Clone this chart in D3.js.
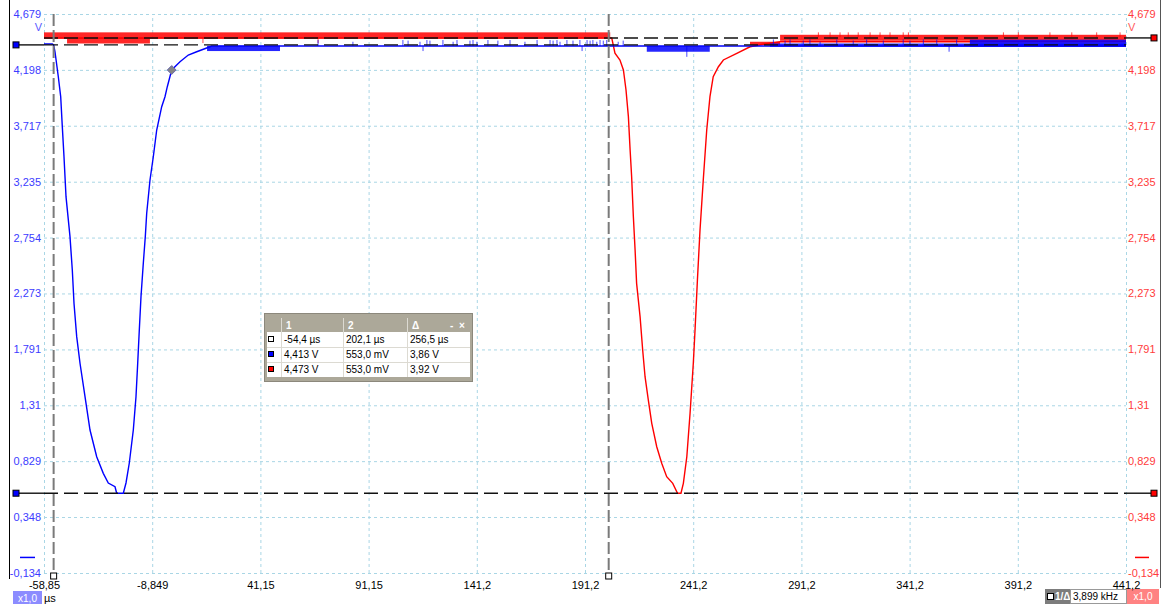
<!DOCTYPE html>
<html>
<head>
<meta charset="utf-8">
<script src="https://cdn.jsdelivr.net/npm/d3@7"></script>
<style>
body { margin: 0; background: #fff; }
svg { display: block; font-family: "Liberation Sans", Arial, sans-serif; }
</style>
</head>
<body>
<script>
// axis ticks (µs and V), labels as shown by the scope
var xTicks = [-58.85, -8.85, 41.15, 91.15, 141.15, 191.15, 241.15, 291.15, 341.15, 391.15, 441.15];
var xTickLabels = ["-58,85", "-8,849", "41,15", "91,15", "141,2", "191,2", "241,2", "291,2", "341,2", "391,2", "441,2"];
var yTicks = [4.679, 4.198, 3.717, 3.235, 2.754, 2.273, 1.791, 1.31, 0.829, 0.348, -0.134];
var yTickLabels = ["4,679", "4,198", "3,717", "3,235", "2,754", "2,273", "1,791", "1,31", "0,829", "0,348", "-0,134"];

// channel A (blue) and channel B (red), [µs, V]
var blueTrace = [
  [-58.85, 4.421], [-55.0, 4.421], [-54.4, 4.413], [-53.77, 4.354], [-52.24, 4.139],
  [-51.13, 3.967], [-50.39, 3.709], [-49.61, 3.450], [-48.68, 3.106], [-46.84, 2.762],
  [-45.77, 2.475], [-44.99, 2.188], [-43.74, 1.901], [-42.21, 1.672], [-39.90, 1.384],
  [-37.59, 1.097], [-34.50, 0.867], [-31.45, 0.724], [-29.14, 0.641], [-26.04, 0.609],
  [-25.26, 0.553], [-22.20, 0.553], [-20.96, 0.641], [-19.43, 0.813], [-17.58, 1.097],
  [-16.34, 1.384], [-15.55, 1.672], [-14.81, 1.958], [-14.03, 2.245], [-12.96, 2.533],
  [-12.04, 2.762], [-11.39, 2.963], [-9.87, 3.250], [-8.34, 3.450], [-6.77, 3.680],
  [-4.46, 3.881], [-2.94, 3.967], [-1.87, 4.053], [0.16, 4.197], [2.47, 4.240],
  [4.00, 4.268], [7.83, 4.326], [11.71, 4.354], [17.86, 4.397], [18.5, 4.403],
  [441.15, 4.403]
];
var redTrace = [
  [-58.85, 4.473], [203.5, 4.473], [204.2, 4.412], [205.0, 4.341], [207.3, 4.283],
  [208.9, 4.197], [210.1, 4.025], [211.2, 3.795], [212.0, 3.508], [212.7, 3.278],
  [213.5, 2.934], [214.3, 2.647], [215.0, 2.360], [216.6, 2.073], [217.8, 1.786],
  [218.9, 1.556], [220.4, 1.356], [222.0, 1.155], [224.3, 0.953], [226.6, 0.811],
  [228.9, 0.695], [231.7, 0.638], [233.9, 0.553], [235.5, 0.553], [236.6, 0.638],
  [238.2, 0.867], [239.7, 1.241], [241.2, 1.672], [242.0, 1.958], [243.1, 2.389],
  [244.3, 2.819], [245.8, 3.250], [247.4, 3.680], [248.9, 3.967], [250.4, 4.139],
  [252.8, 4.225], [255.1, 4.283], [261.3, 4.341], [267.4, 4.397], [273.6, 4.418],
  [281.3, 4.440], [441.15, 4.440]
];

// dense noise blocks [t0, t1, vLow, vHigh]
var blueBands = [
  [16.5, 50.2, 4.360, 4.406],
  [219.7, 248.8, 4.354, 4.403],
  [276.6, 441.15, 4.397, 4.425],
  [369.0, 441.15, 4.397, 4.458]
];
var redBands = [
  [-58.85, 202.8, 4.467, 4.521],
  [-48.2, -9.9, 4.425, 4.473],
  [267.4, 281.3, 4.412, 4.440],
  [281.3, 441.15, 4.448, 4.500]
];

// single noise spikes [t, vLow, vHigh]
var blueSpikes = [
  [67.8, 4.403, 4.455], [83.9, 4.403, 4.44], [107.0, 4.403, 4.455], [109.4, 4.403, 4.45],
  [114.9, 4.403, 4.44], [116.3, 4.360, 4.403], [118.1, 4.403, 4.455], [119.5, 4.403, 4.45],
  [125.5, 4.403, 4.455], [130.2, 4.403, 4.44], [132.0, 4.403, 4.455], [138.0, 4.403, 4.45],
  [139.4, 4.403, 4.455], [141.2, 4.403, 4.44], [146.3, 4.403, 4.455], [150.9, 4.403, 4.45],
  [156.5, 4.403, 4.455], [163.4, 4.403, 4.44], [169.0, 4.403, 4.455], [175.0, 4.403, 4.455],
  [176.4, 4.403, 4.45], [178.2, 4.403, 4.455], [179.6, 4.403, 4.44], [182.8, 4.403, 4.455],
  [185.6, 4.403, 4.45], [188.8, 4.403, 4.455], [189.8, 4.360, 4.403], [192.1, 4.403, 4.455],
  [193.5, 4.403, 4.45], [194.8, 4.403, 4.455], [196.6, 4.403, 4.44], [198.1, 4.403, 4.455],
  [199.6, 4.403, 4.45], [201.2, 4.403, 4.455], [206.5, 4.403, 4.44], [208.8, 4.403, 4.45],
  [238.2, 4.310, 4.403],
  [278.2, 4.403, 4.46], [283.6, 4.403, 4.45], [285.9, 4.403, 4.46], [292.0, 4.403, 4.45],
  [295.1, 4.403, 4.46], [299.8, 4.403, 4.44], [307.5, 4.403, 4.46], [315.1, 4.403, 4.45],
  [321.3, 4.403, 4.46], [329.0, 4.403, 4.45], [338.2, 4.403, 4.46], [341.3, 4.403, 4.45],
  [347.5, 4.403, 4.46], [353.7, 4.403, 4.46], [359.4, 4.354, 4.403], [362.9, 4.403, 4.46]
];
var redSpikes = [
  [14.6, 4.429, 4.473], [67.8, 4.429, 4.473],
  [299.0, 4.48, 4.521], [304.4, 4.48, 4.521], [309.0, 4.48, 4.521], [312.8, 4.48, 4.521],
  [317.4, 4.48, 4.521], [322.9, 4.48, 4.521], [327.5, 4.48, 4.521], [332.1, 4.48, 4.521],
  [338.2, 4.48, 4.521], [340.6, 4.48, 4.521], [384.5, 4.48, 4.521], [391.4, 4.48, 4.521],
  [406.0, 4.48, 4.521], [416.1, 4.48, 4.521], [427.6, 4.48, 4.521], [438.4, 4.48, 4.521]
];

// cursors
var timeCursors = [-54.4, 202.1];
var blueCursor = 4.413;
var redCursor = 4.473;
var lowCursor = 0.553;
var markerPoint = [0.16, 4.197];

// measurement table
var tableHeader = ["1", "2", "\u0394"];
var tableRows = [
  ["-54,4 \u00b5s", "202,1 \u00b5s", "256,5 \u00b5s"],
  ["4,413 V", "553,0 mV", "3,86 V"],
  ["4,473 V", "553,0 mV", "3,92 V"]
];
var rowColors = ["#ffffff", "#0000ff", "#ff0000"];

var width = 1164;
var height = 604;
var pL = 44, pR = 1126, pT = 14, pB = 573;
var blue = "#0000ff", red = "#ff0000";

var svg = d3.select("body").append("svg")
  .attr("width", width)
  .attr("height", height);

var x = d3.scaleLinear().domain([-58.85, 441.15]).range([pL, pR]);
var y = d3.scaleLinear().domain([-0.134, 4.679]).range([pB, pT]);

// frame lines
svg.append("line").attr("x1", 9.5).attr("x2", 9.5).attr("y1", 0).attr("y2", 579).attr("stroke", "#000");
svg.append("line").attr("x1", 1160.5).attr("x2", 1160.5).attr("y1", 0).attr("y2", 588).attr("stroke", "#555");

// bottom status boxes
svg.append("rect").attr("x", 13).attr("y", 591).attr("width", 29).attr("height", 13).attr("fill", "#8c8cff");
svg.append("text").attr("x", 27.5).attr("y", 601.5).attr("text-anchor", "middle")
  .attr("font-size", "10px").attr("fill", "#fff").text("x1,0");
svg.append("text").attr("x", 44).attr("y", 602).attr("font-size", "11px").attr("fill", "#000").text("\u00b5s");

svg.append("rect").attr("x", 1045).attr("y", 589).attr("width", 25).attr("height", 15).attr("fill", "#7c7c7c");
svg.append("rect").attr("x", 1047.5).attr("y", 593.5).attr("width", 6).attr("height", 6).attr("fill", "#fff").attr("stroke", "#000");
svg.append("text").attr("x", 1055).attr("y", 600).attr("font-size", "10px").attr("font-weight", "bold")
  .attr("fill", "#fff").text("1/\u0394");
svg.append("rect").attr("x", 1070.5).attr("y", 589.5).attr("width", 56).attr("height", 14)
  .attr("fill", "#fff").attr("stroke", "#999");
svg.append("text").attr("x", 1073).attr("y", 600).attr("font-size", "10px").attr("fill", "#000").text("3,899 kHz");
svg.append("rect").attr("x", 1127).attr("y", 589).attr("width", 32).attr("height", 15).attr("fill", "#ff8282");
svg.append("text").attr("x", 1143).attr("y", 600).attr("text-anchor", "middle")
  .attr("font-size", "10px").attr("fill", "#fff").text("x1,0");

// grid
var gx = svg.append("g")
  .attr("transform", "translate(0," + pB + ")")
  .call(d3.axisBottom(x).tickValues(xTicks).tickSize(-(pB - pT)).tickFormat(""));
var gy = svg.append("g")
  .attr("transform", "translate(" + pL + ",0)")
  .call(d3.axisLeft(y).tickValues(yTicks).tickSize(-(pR - pL)).tickFormat(""));
[gx, gy].forEach(function(g) {
  g.select(".domain").remove();
  g.selectAll(".tick line")
    .attr("stroke", "#a9d6e5")
    .attr("stroke-dasharray", "3,3");
});

// tick labels
var ax = svg.append("g")
  .attr("transform", "translate(0," + pB + ")")
  .call(d3.axisBottom(x).tickValues(xTicks).tickSize(0).tickPadding(8)
    .tickFormat(function(d, i) { return xTickLabels[i]; }));
var al = svg.append("g")
  .attr("transform", "translate(" + pL + ",0)")
  .call(d3.axisLeft(y).tickValues(yTicks).tickSize(0).tickPadding(3)
    .tickFormat(function(d, i) { return yTickLabels[i]; }));
var ar = svg.append("g")
  .attr("transform", "translate(" + pR + ",0)")
  .call(d3.axisRight(y).tickValues(yTicks).tickSize(0).tickPadding(2)
    .tickFormat(function(d, i) { return yTickLabels[i]; }));
[ax, al, ar].forEach(function(g) {
  g.select(".domain").remove();
  g.selectAll("text").attr("font-size", "11px").attr("font-family", "Liberation Sans, Arial, sans-serif");
});
ax.selectAll("text").attr("fill", "#000");
al.selectAll("text").attr("fill", "#3c3cff");
ar.selectAll("text").attr("fill", "#ff3c3c");

svg.append("text").attr("x", 42).attr("y", 31).attr("text-anchor", "end")
  .attr("font-size", "11px").attr("fill", "#5a5aff").text("V");
svg.append("text").attr("x", 1128).attr("y", 31)
  .attr("font-size", "11px").attr("fill", "#ff5a5a").text("V");

// 0 V markers
svg.append("line").attr("x1", 20).attr("x2", 35).attr("y1", y(0)).attr("y2", y(0))
  .attr("stroke", blue).attr("stroke-width", 1.5);
svg.append("line").attr("x1", 1135).attr("x2", 1149).attr("y1", y(0)).attr("y2", y(0))
  .attr("stroke", red).attr("stroke-width", 1.5);

// noise and traces
function drawChannel(bands, spikes, trace, color) {
  svg.append("g").selectAll("rect")
    .data(bands).enter().append("rect")
    .attr("x", function(d) { return x(d[0]); })
    .attr("width", function(d) { return x(d[1]) - x(d[0]); })
    .attr("y", function(d) { return y(d[3]); })
    .attr("height", function(d) { return y(d[2]) - y(d[3]); })
    .attr("fill", color)
    .attr("opacity", 0.85);
  svg.append("g").selectAll("line")
    .data(spikes).enter().append("line")
    .attr("x1", function(d) { return x(d[0]); })
    .attr("x2", function(d) { return x(d[0]); })
    .attr("y1", function(d) { return y(d[1]); })
    .attr("y2", function(d) { return y(d[2]); })
    .attr("stroke", color)
    .attr("stroke-width", 1)
    .attr("opacity", 0.7);
  svg.append("path")
    .datum(trace)
    .attr("d", d3.line()
      .x(function(d) { return x(d[0]); })
      .y(function(d) { return y(d[1]); }))
    .attr("fill", "none")
    .attr("stroke", color)
    .attr("stroke-width", 1.4);
}
drawChannel(redBands, redSpikes, redTrace, red);
drawChannel(blueBands, blueSpikes, blueTrace, blue);

// horizontal cursors
function hCursor(v, x0, x1) {
  svg.append("line").attr("x1", pL).attr("x2", pR).attr("y1", y(v)).attr("y2", y(v))
    .attr("stroke", "#111").attr("stroke-width", 1.4).attr("stroke-dasharray", "14,6");
  if (x0 !== null) {
    svg.append("line").attr("x1", x0).attr("x2", pL).attr("y1", y(v)).attr("y2", y(v))
      .attr("stroke", "#111").attr("stroke-width", 1.4);
  }
  if (x1 !== null) {
    svg.append("line").attr("x1", pR).attr("x2", x1).attr("y1", y(v)).attr("y2", y(v))
      .attr("stroke", "#111").attr("stroke-width", 1.4);
  }
}
hCursor(redCursor, null, 1154);
hCursor(blueCursor, 16, null);
hCursor(lowCursor, 16, 1154);

// vertical cursors
svg.append("g").selectAll("line")
  .data(timeCursors).enter().append("line")
  .attr("x1", function(d) { return x(d); })
  .attr("x2", function(d) { return x(d); })
  .attr("y1", pT)
  .attr("y2", pB + 2)
  .attr("stroke", "#7a7a7a")
  .attr("stroke-width", 2)
  .attr("stroke-dasharray", "12,4");
svg.append("g").selectAll("rect")
  .data(timeCursors).enter().append("rect")
  .attr("x", function(d) { return x(d) - 3; })
  .attr("y", pB)
  .attr("width", 6).attr("height", 6)
  .attr("fill", "#fff").attr("stroke", "#000");

// cursor handles
var handles = [[16, blueCursor, blue], [16, lowCursor, blue], [1154, redCursor, red], [1154, lowCursor, red]];
svg.append("g").selectAll("rect")
  .data(handles).enter().append("rect")
  .attr("x", function(d) { return d[0] - 3; })
  .attr("y", function(d) { return y(d[1]) - 3; })
  .attr("width", 6).attr("height", 6)
  .attr("fill", function(d) { return d[2]; })
  .attr("stroke", "#000");

// diamond marker
svg.append("path")
  .attr("d", d3.symbol().type(d3.symbolDiamond2).size(50))
  .attr("transform", "translate(" + x(markerPoint[0]) + "," + y(markerPoint[1]) + ")")
  .attr("fill", "#858585")
  .attr("stroke", "#6a6ab0");

// measurement table
var tb = svg.append("g").attr("font-size", "10px");
tb.append("rect").attr("x", 264.5).attr("y", 313.5).attr("width", 208).attr("height", 68)
  .attr("fill", "#aca899").attr("stroke", "#8c887c");
tb.append("rect").attr("x", 267).attr("y", 332).attr("width", 203).attr("height", 45)
  .attr("fill", "#fff");
var colX = [281, 343, 407, 470];
colX.slice(0, 3).forEach(function(cx) {
  tb.append("line").attr("x1", cx + 0.5).attr("x2", cx + 0.5).attr("y1", 318).attr("y2", 377)
    .attr("stroke", "#dcdad2");
});
[347, 362].forEach(function(ry) {
  tb.append("line").attr("x1", 267).attr("x2", 470).attr("y1", ry + 0.5).attr("y2", ry + 0.5)
    .attr("stroke", "#dcdad2");
});
tb.selectAll(".hdr").data(tableHeader).enter().append("text")
  .attr("x", function(d, i) { return colX[i] + 5; })
  .attr("y", 329)
  .attr("fill", "#fff").attr("font-weight", "bold")
  .text(function(d) { return d; });
tb.append("text").attr("x", 450).attr("y", 329).attr("fill", "#fff").attr("font-weight", "bold").text("-");
tb.append("text").attr("x", 459).attr("y", 329).attr("fill", "#fff").attr("font-weight", "bold").text("\u00d7");
tableRows.forEach(function(row, r) {
  var ry = 332 + r * 15;
  tb.append("rect").attr("x", 268.5).attr("y", ry + 4.5).attr("width", 5).attr("height", 5)
    .attr("fill", rowColors[r]).attr("stroke", "#000");
  tb.selectAll(".r" + r).data(row).enter().append("text")
    .attr("x", function(d, i) { return colX[i] + 3; })
    .attr("y", ry + 11)
    .attr("fill", "#000")
    .text(function(d) { return d; });
});
</script>
</body>
</html>
